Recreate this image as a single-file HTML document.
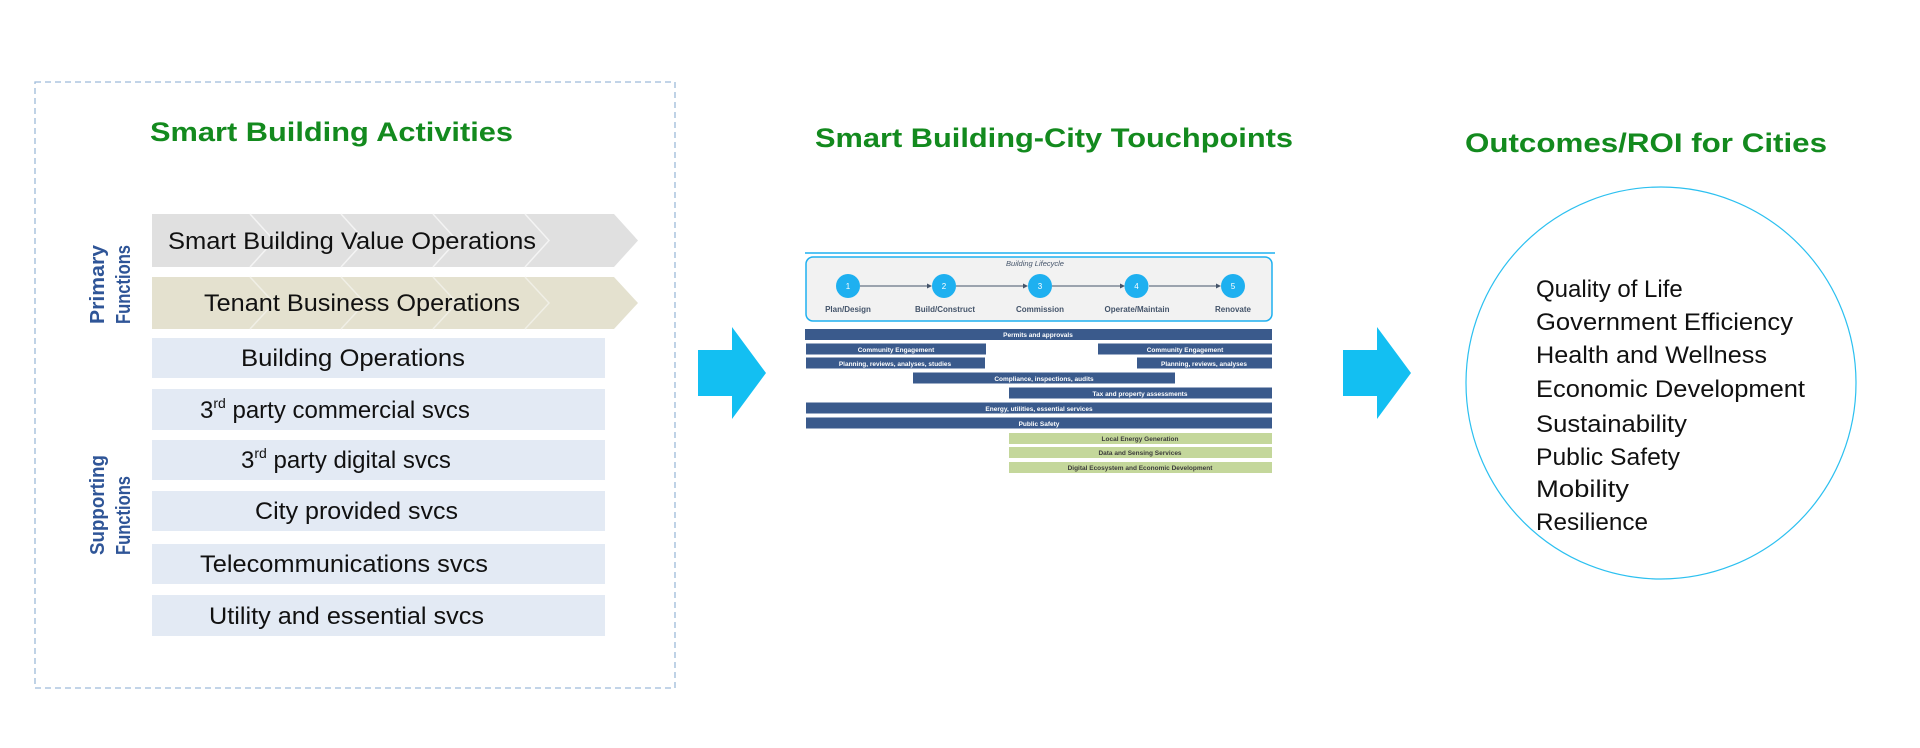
<!DOCTYPE html>
<html><head><meta charset="utf-8"><style>
html,body{margin:0;padding:0;background:#fff;width:1920px;height:748px;overflow:hidden}
svg{display:block}
text{font-family:"Liberation Sans",sans-serif}
</style></head><body>
<svg width="1920" height="748" viewBox="0 0 1920 748" xmlns="http://www.w3.org/2000/svg">
<rect width="1920" height="748" fill="#fff"/>
<!-- left dashed box -->
<rect x="35" y="82" width="640" height="606" fill="none" stroke="#9dbbd9" stroke-width="1.3" stroke-dasharray="6,4"/>
<text x="150" y="141" font-size="27" font-weight="bold" fill="#138a1e" textLength="363" lengthAdjust="spacingAndGlyphs">Smart Building Activities</text>

<!-- chevrons -->
<polygon points="152,214 614,214 638,240.5 614,267 152,267" fill="#e0e0e0"/>
<g stroke="#f4f4f4" stroke-width="1.5" fill="none">
<polyline points="250,214 274,240.5 250,267"/><polyline points="341,214 365,240.5 341,267"/><polyline points="433,214 457,240.5 433,267"/><polyline points="525,214 549,240.5 525,267"/>
</g>
<text x="168" y="249" font-size="24" fill="#111" textLength="368" lengthAdjust="spacingAndGlyphs">Smart Building Value Operations</text>
<polygon points="152,277 614,277 638,303 614,329 152,329" fill="#e4e1cf"/>
<g stroke="#f0efe6" stroke-width="1.5" fill="none">
<polyline points="250,277 274,303 250,329"/><polyline points="341,277 365,303 341,329"/><polyline points="433,277 457,303 433,329"/><polyline points="525,277 549,303 525,329"/>
</g>
<text x="204" y="311" font-size="24" fill="#111" textLength="316" lengthAdjust="spacingAndGlyphs">Tenant Business Operations</text>

<!-- support rects -->
<g fill="#e3eaf4">
<rect x="152" y="338" width="453" height="40"/>
<rect x="152" y="389" width="453" height="41"/>
<rect x="152" y="440" width="453" height="40"/>
<rect x="152" y="491" width="453" height="40"/>
<rect x="152" y="544" width="453" height="40"/>
<rect x="152" y="595" width="453" height="41"/>
</g>
<g font-size="24" fill="#111">
<text x="241" y="366" textLength="224" lengthAdjust="spacingAndGlyphs">Building Operations</text>
<text x="200" y="418">3<tspan font-size="14" dy="-10">rd</tspan><tspan dy="10"> party commercial svcs</tspan></text>
<text x="241" y="468">3<tspan font-size="14" dy="-10">rd</tspan><tspan dy="10"> party digital svcs</tspan></text>
<text x="255" y="519" textLength="203" lengthAdjust="spacingAndGlyphs">City provided svcs</text>
<text x="200" y="572" textLength="288" lengthAdjust="spacingAndGlyphs">Telecommunications svcs</text>
<text x="209" y="624" textLength="275" lengthAdjust="spacingAndGlyphs">Utility and essential svcs</text>
</g>

<!-- vertical labels -->
<g font-size="20" font-weight="bold" fill="#2f5597">
<text transform="translate(104,324) rotate(-90)" textLength="79" lengthAdjust="spacingAndGlyphs">Primary</text>
<text transform="translate(130,324) rotate(-90)" textLength="79" lengthAdjust="spacingAndGlyphs">Functions</text>
<text transform="translate(104,555) rotate(-90)" textLength="100" lengthAdjust="spacingAndGlyphs">Supporting</text>
<text transform="translate(130,555) rotate(-90)" textLength="79" lengthAdjust="spacingAndGlyphs">Functions</text>
</g>

<!-- arrows -->
<polygon points="698,350 732,350 732,327 766,373 732,419 732,396 698,396" fill="#13bff2"/>
<polygon points="1343,350 1377,350 1377,327 1411,373 1377,419 1377,396 1343,396" fill="#13bff2"/>

<!-- middle -->
<text x="815" y="147" font-size="27" font-weight="bold" fill="#138a1e" textLength="478" lengthAdjust="spacingAndGlyphs">Smart Building-City Touchpoints</text>
<line x1="805" y1="253" x2="1275" y2="253" stroke="#1eb0f0" stroke-width="1.5"/>
<rect x="806" y="257" width="466" height="64" rx="7" fill="#f2f2f2" stroke="#1eb0f0" stroke-width="1.5"/>
<text x="1035" y="266" font-size="7.5" font-style="italic" fill="#44546a" text-anchor="middle">Building Lifecycle</text>
<g stroke="#44546a" stroke-width="1">
<line x1="860" y1="286" x2="930" y2="286"/><line x1="956" y1="286" x2="1026" y2="286"/><line x1="1052" y1="286" x2="1123" y2="286"/><line x1="1149" y1="286" x2="1219" y2="286"/>
</g>
<g fill="#44546a">
<polygon points="932,286 927,283.5 927,288.5"/><polygon points="1028,286 1023,283.5 1023,288.5"/><polygon points="1125,286 1120,283.5 1120,288.5"/><polygon points="1221,286 1216,283.5 1216,288.5"/>
</g>
<g fill="#1eb0f0">
<circle cx="848" cy="286" r="12"/><circle cx="944" cy="286" r="12"/><circle cx="1040" cy="286" r="12"/><circle cx="1136.5" cy="286" r="12"/><circle cx="1233" cy="286" r="12"/>
</g>
<g font-size="8" fill="#fff" text-anchor="middle">
<text x="848" y="289">1</text><text x="944" y="289">2</text><text x="1040" y="289">3</text><text x="1136.5" y="289">4</text><text x="1233" y="289">5</text>
</g>
<g font-size="8" font-weight="bold" fill="#44546a" text-anchor="middle">
<text x="848" y="312">Plan/Design</text><text x="945" y="312">Build/Construct</text><text x="1040" y="312">Commission</text><text x="1137" y="312">Operate/Maintain</text><text x="1233" y="312">Renovate</text>
</g>
<g fill="#3a5a8c">
<rect x="805" y="329" width="467" height="11"/>
<rect x="806" y="343.5" width="180" height="11"/>
<rect x="1098" y="343.5" width="174" height="11"/>
<rect x="806" y="357.5" width="179" height="11"/>
<rect x="1137" y="357.5" width="135" height="11"/>
<rect x="913" y="372.5" width="262" height="11"/>
<rect x="1009" y="387.5" width="263" height="11"/>
<rect x="806" y="402.5" width="466" height="11"/>
<rect x="806" y="417.5" width="466" height="11"/>
</g>
<g fill="#c4d79b">
<rect x="1009" y="433" width="263" height="11"/>
<rect x="1009" y="447" width="263" height="11"/>
<rect x="1009" y="462" width="263" height="11"/>
</g>
<g font-size="6.5" font-weight="bold" fill="#fff" text-anchor="middle">
<text x="1038" y="337">Permits and approvals</text>
<text x="896" y="352">Community Engagement</text>
<text x="1185" y="352">Community Engagement</text>
<text x="895" y="366">Planning, reviews, analyses, studies</text>
<text x="1204" y="366">Planning, reviews, analyses</text>
<text x="1044" y="381">Compliance, inspections, audits</text>
<text x="1140" y="396">Tax and property assessments</text>
<text x="1039" y="411">Energy, utilities, essential services</text>
<text x="1039" y="426">Public Safety</text>
</g>
<g font-size="6.5" font-weight="bold" fill="#3b3b3b" text-anchor="middle">
<text x="1140" y="441">Local Energy Generation</text>
<text x="1140" y="455">Data and Sensing Services</text>
<text x="1140" y="470">Digital Ecosystem and Economic Development</text>
</g>

<!-- right -->
<text x="1465" y="152" font-size="27" font-weight="bold" fill="#138a1e" textLength="362" lengthAdjust="spacingAndGlyphs">Outcomes/ROI for Cities</text>
<ellipse cx="1661" cy="383" rx="195" ry="196" fill="none" stroke="#2cc0f0" stroke-width="1.2"/>
<g font-size="24" fill="#111">
<text x="1536" y="297">Quality of Life</text>
<text x="1536" y="330" textLength="257" lengthAdjust="spacingAndGlyphs">Government Efficiency</text>
<text x="1536" y="363" textLength="231" lengthAdjust="spacingAndGlyphs">Health and Wellness</text>
<text x="1536" y="397" textLength="269" lengthAdjust="spacingAndGlyphs">Economic Development</text>
<text x="1536" y="432" textLength="151" lengthAdjust="spacingAndGlyphs">Sustainability</text>
<text x="1536" y="465" textLength="144" lengthAdjust="spacingAndGlyphs">Public Safety</text>
<text x="1536" y="497" textLength="93" lengthAdjust="spacingAndGlyphs">Mobility</text>
<text x="1536" y="530" textLength="112" lengthAdjust="spacingAndGlyphs">Resilience</text>
</g>
</svg>
</body></html>
